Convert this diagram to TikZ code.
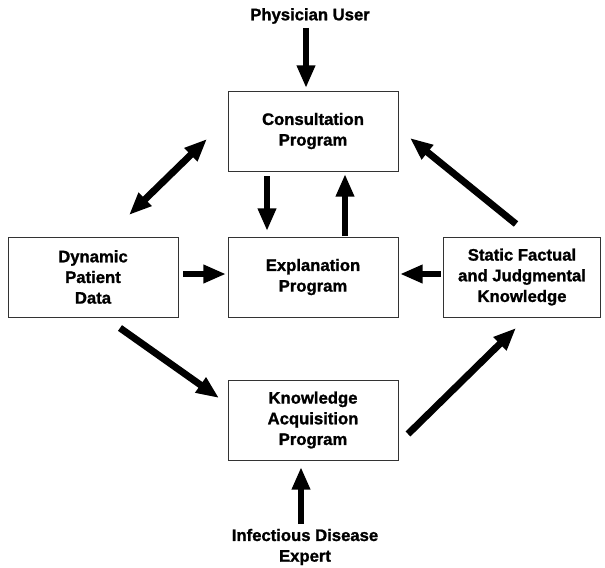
\documentclass[tikz,border=0pt]{standalone}
\usepackage{fontspec}
\setmainfont{Liberation Sans}[BoldFeatures={FakeBold=1.3}]
\usetikzlibrary{arrows.meta}
\begin{document}
\begin{tikzpicture}[x=0.75pt,y=-0.75pt,
  box/.style={draw=black!80,line width=0.7pt,minimum width=127.5pt,minimum height=60pt,
    align=center,font=\bfseries\fontsize{12.5}{15.5}\selectfont,inner sep=0pt},
  lbl/.style={align=center,font=\bfseries\fontsize{12.5}{15.5}\selectfont,inner sep=0pt},
  fat/.style={line width=5.2pt,-{Triangle[width=13pt,length=17pt]}},
  fatboth/.style={line width=5.2pt,{Triangle[width=13pt,length=17pt]}-{Triangle[width=13pt,length=17pt]}}]
\useasboundingbox (0,0) rectangle (605,567);
% boxes
\node[box] (cons) at (313,131) {Consultation\\Program};
\node[box] (expl) at (313,277) {Explanation\\Program};
\node[box] (know) at (313,420) {Knowledge\\Acquisition\\Program};
\node[box] (dyn) at (93,277) {Dynamic\\Patient\\Data};
\node[box,minimum width=118pt] (stat) at (522,277) {Static Factual\\and Judgmental\\Knowledge};
% outside labels
\node[lbl] (phys) at (310,16) {Physician User};
\node[lbl] (expert) at (305,547) {Infectious Disease\\Expert};
% anchor points for the connectors
\coordinate (p1) at (306,28);
\coordinate (p2) at (306,88);
\coordinate (e1) at (301,524);
\coordinate (e2) at (301,467);
\coordinate (cd1) at (207,139);
\coordinate (cd2) at (129,215);
\coordinate (ce1) at (267,176);
\coordinate (ce2) at (267,231);
\coordinate (ec1) at (345,236);
\coordinate (ec2) at (345,174);
\coordinate (de1) at (183,274);
\coordinate (de2) at (226,274);
\coordinate (se1) at (441,274);
\coordinate (se2) at (400,274);
\coordinate (sc1) at (516,224);
\coordinate (sc2) at (410,138);
\coordinate (dk1) at (120,328);
\coordinate (dk2) at (219,398);
\coordinate (ks1) at (408,434);
\coordinate (ks2) at (516,328);
% connectors
\draw[fat] (p1) -- (p2);
\draw[fat] (e1) -- (e2);
\draw[fatboth] (cd1) -- (cd2);
\draw[fat] (ce1) -- (ce2);
\draw[fat] (ec1) -- (ec2);
\draw[fat] (de1) -- (de2);
\draw[fat] (se1) -- (se2);
\draw[fat] (sc1) -- (sc2);
\draw[fat] (dk1) -- (dk2);
\draw[fat] (ks1) -- (ks2);
\end{tikzpicture}
\end{document}
